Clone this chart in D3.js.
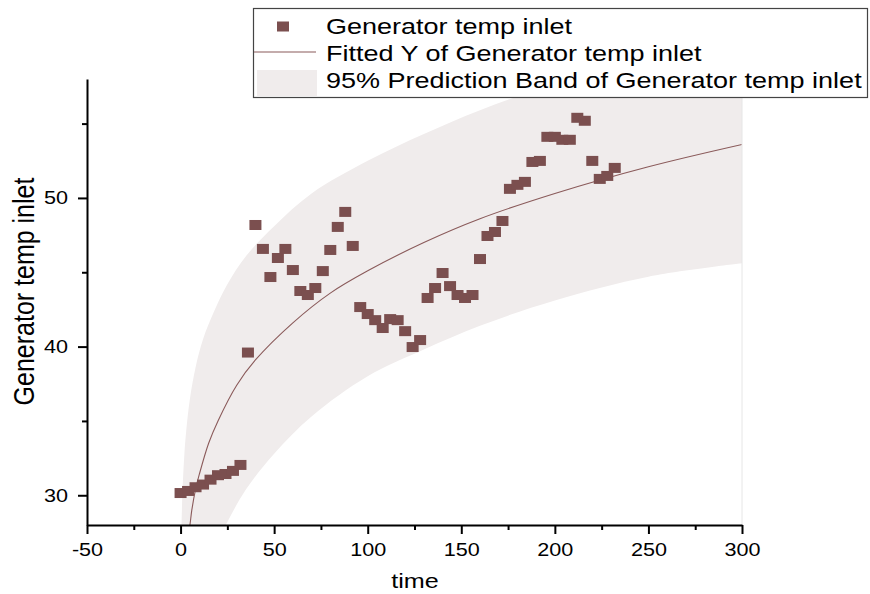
<!DOCTYPE html>
<html>
<head>
<meta charset="utf-8">
<script src="https://cdn.jsdelivr.net/npm/d3@7"></script>
<style>
  body { margin: 0; background: #fff; }
  text { font-family: "Liberation Sans", Arial, sans-serif; fill: #000; }
</style>
</head>
<body>
<div id="chart"></div>
<script>
// measured points, time vs inlet temp
var times = [0, 4, 8, 12, 16, 20, 24, 28, 32, 36, 40, 44, 48, 52, 56, 60, 64, 68, 72, 76,
  80, 84, 88, 92, 96, 100, 104, 108, 112, 116, 120, 124, 128, 132, 136, 140, 144, 148, 152, 156,
  160, 164, 168, 172, 176, 180, 184, 188, 192, 196, 200, 204, 208, 212, 216, 220, 224, 228, 232];
var temps = [30.15, 30.29, 30.54, 30.72, 31.05, 31.35, 31.43, 31.64, 32.04, 39.6, 48.18, 46.57, 44.68, 45.96, 46.57, 45.15, 43.74, 43.47, 43.94, 45.08,
  46.5, 48.05, 49.06, 46.77, 42.66, 42.19, 41.78, 41.25, 41.85, 41.78, 41.04, 39.97, 40.44, 43.27, 43.94, 44.95, 44.07, 43.47, 43.27, 43.47,
  45.89, 47.44, 47.71, 48.45, 50.61, 50.88, 51.08, 52.42, 52.49, 54.11, 54.11, 53.91, 53.91, 55.39, 55.19, 52.49, 51.28, 51.48, 52.02];

// fitted curve
var fitTimes = [4, 5, 6, 8, 10, 15, 20, 30, 40, 60, 80, 100, 130, 160, 200, 250, 300];
var fitValues = [27.3, 28.0, 29.0, 30.4, 31.4, 33.5, 35.0, 37.4, 39.1, 41.6, 43.6, 45.1, 47.0, 48.6, 50.3, 52.1, 53.6];

// 95% prediction band
var bandTimes = [0.5, 1, 2, 3, 5, 8, 12, 18, 25, 35, 50, 70, 100, 130, 160, 200, 250, 300];
var bandUpper = [27.9, 30.2, 32.7, 34.3, 36.5, 38.6, 40.5, 42.4, 44.2, 46.1, 48.1, 50.3, 52.5, 54.3, 55.9, 57.7, 59.7, 61.7];
var bandLower = [11.4, 13.6, 16.1, 17.7, 19.9, 22.2, 24.2, 26.4, 28.2, 30.4, 32.8, 35.3, 38.0, 39.8, 41.4, 43.1, 44.7, 45.6];

var xTicks = [-50, 0, 50, 100, 150, 200, 250, 300];
var xMinor = [-25, 25, 75, 125, 175, 225, 275];
var yTicks = [30, 40, 50];
var yMinor = [35, 45, 55];
var legendLabels = ['Generator temp inlet', 'Fitted Y of Generator temp inlet', '95% Prediction Band of Generator temp inlet'];

var W = 870, H = 594;
var plot = { left: 87, right: 742, top: 79, bottom: 525 };
var markColor = '#7b4f4f';
var lineColor = '#8a5a5a';
var bandColor = '#f0ecec';
var sx = 1.2; // text in the original is drawn a bit wide

var svg = d3.select('#chart')
  .append('svg')
    .attr('width', W)
    .attr('height', H);

var xScale = d3.scaleLinear().domain([-50, 300]).range([plot.left, plot.right]);
var yScale = d3.scaleLinear().domain([28, 58]).range([plot.bottom, plot.top]);

svg.append('clipPath').attr('id', 'clip')
  .append('rect')
    .attr('x', plot.left)
    .attr('y', plot.top)
    .attr('width', plot.right - plot.left)
    .attr('height', plot.bottom - plot.top);

var g = svg.append('g').attr('clip-path', 'url(#clip)');

// band
var band = d3.area()
  .x((d, i) => xScale(bandTimes[i]))
  .y0((d, i) => yScale(bandLower[i]))
  .y1((d, i) => yScale(bandUpper[i]))
  .curve(d3.curveCatmullRom.alpha(0.5));

g.append('path')
  .datum(bandTimes)
  .attr('d', band)
  .style('fill', bandColor);

// faint right frame
svg.append('line')
  .attr('x1', plot.right).attr('x2', plot.right)
  .attr('y1', plot.top).attr('y2', plot.bottom)
  .style('stroke', '#e6e6e6')
  .style('stroke-width', 1);

// fitted line
var fitLine = d3.line()
  .x((d, i) => xScale(fitTimes[i]))
  .y((d, i) => yScale(fitValues[i]))
  .curve(d3.curveCatmullRom.alpha(0.5));

g.append('path')
  .datum(fitValues)
  .attr('d', fitLine)
  .style('fill', 'none')
  .style('stroke', lineColor)
  .style('stroke-width', 1.1);

// points
svg.append('g')
  .selectAll('rect')
  .data(times)
  .enter()
    .append('rect')
    .attr('x', (d) => xScale(d) - 6)
    .attr('y', (d, i) => yScale(temps[i]) - 5)
    .attr('width', 12)
    .attr('height', 10)
    .style('fill', markColor);

// axes
function styleAxis (sel) {
  sel.selectAll('path, line').style('stroke', '#000').style('stroke-width', 2);
}

var xAxis = svg.append('g')
  .attr('transform', `translate(0, ${plot.bottom})`)
  .call(d3.axisBottom(xScale).tickValues(xTicks).tickSize(9).tickSizeOuter(0).tickFormat((d) => String(d)));
xAxis.selectAll('text')
  .attr('y', 0).attr('dy', 0)
  .attr('transform', `translate(0, 31) scale(${sx}, 1)`)
  .style('font-size', '18px')
  .style('fill', '#000');
xAxis.call(styleAxis);

svg.append('g')
  .attr('transform', `translate(0, ${plot.bottom})`)
  .call(d3.axisBottom(xScale).tickValues(xMinor).tickSize(5).tickFormat(''))
  .call((s) => s.select('.domain').remove())
  .call(styleAxis);

var yAxis = svg.append('g')
  .attr('transform', `translate(${plot.left}, 0)`)
  .call(d3.axisLeft(yScale).tickValues(yTicks).tickSize(9).tickSizeOuter(0).tickFormat((d) => String(d)));
yAxis.selectAll('text')
  .attr('x', 0).attr('dy', '0.32em')
  .attr('transform', `translate(-19, 0) scale(${sx}, 1)`)
  .style('font-size', '18px')
  .style('fill', '#000');
yAxis.call(styleAxis);

svg.append('g')
  .attr('transform', `translate(${plot.left}, 0)`)
  .call(d3.axisLeft(yScale).tickValues(yMinor).tickSize(5).tickFormat(''))
  .call((s) => s.select('.domain').remove())
  .call(styleAxis);

// axis titles
svg.append('text')
  .attr('transform', `translate(415, 588) scale(${sx}, 1)`)
  .attr('text-anchor', 'middle')
  .style('font-size', '21px')
  .text('time');

svg.append('text')
  .attr('transform', `translate(33.5, 291.5) scale(${sx}, 1) rotate(-90)`)
  .attr('text-anchor', 'middle')
  .style('font-size', '25px')
  .text('Generator temp inlet');

// legend
var legend = svg.append('g');
legend.append('rect')
  .attr('x', 253.5).attr('y', 8.5)
  .attr('width', 614).attr('height', 89)
  .style('fill', '#fff')
  .style('stroke', '#444')
  .style('stroke-width', 1.2);

legend.append('rect')
  .attr('x', 277).attr('y', 21.5)
  .attr('width', 12).attr('height', 10)
  .style('fill', markColor);

legend.append('line')
  .attr('x1', 254).attr('x2', 316)
  .attr('y1', 52).attr('y2', 52)
  .style('stroke', lineColor)
  .style('stroke-width', 1.1);

legend.append('rect')
  .attr('x', 257).attr('y', 70)
  .attr('width', 60).attr('height', 26)
  .style('fill', bandColor);

var rowBase = [33.5, 60.5, 87.5];
legend.selectAll('text.lab')
  .data(legendLabels)
  .enter()
    .append('text')
    .attr('class', 'lab')
    .attr('transform', (d, i) => `translate(326, ${rowBase[i]}) scale(${sx}, 1)`)
    .style('font-size', '22.5px')
    .text((d) => d);
</script>
</body>
</html>
